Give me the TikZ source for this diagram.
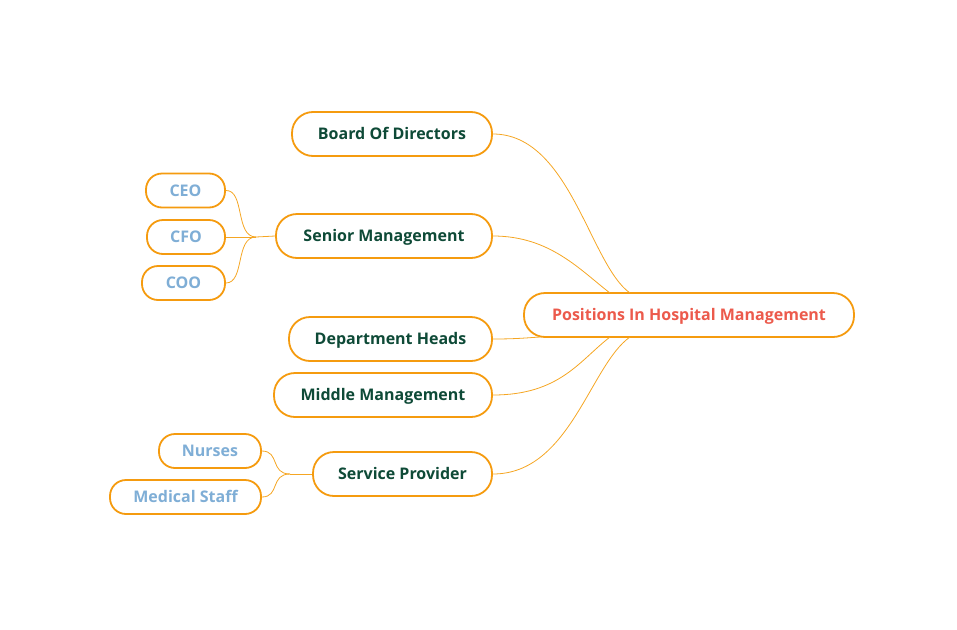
\documentclass[tikz,border=0pt]{standalone}
\usepackage{fontspec}
\setmainfont{Open Sans}
\definecolor{bord}{HTML}{F59B0F}
\definecolor{dgreen}{HTML}{0E4A37}
\definecolor{lblue}{HTML}{7FAED6}
\definecolor{rootred}{HTML}{EC5A4C}
\definecolor{wire}{HTML}{F5A623}
\tikzset{
  boxbase/.style={draw=bord,line width=1.8pt,fill=white,inner sep=0pt,text height=11.4pt,text depth=0pt,font=\fontsize{16}{19}\selectfont\bfseries},
  mainbox/.style={boxbase,rounded corners=21pt,minimum height=44pt,text=dgreen},
  subbox/.style={boxbase,rounded corners=16pt,minimum height=34pt,text=lblue},
  rootbox/.style={boxbase,rounded corners=21pt,minimum height=44pt,text=rootred},
  wire/.style={draw=wire,line width=0.8pt},
}
\begin{document}
\begin{tikzpicture}[x=1pt,y=-1pt]
\useasboundingbox (0,0) rectangle (957,629);
\node[rootbox,minimum width=330pt] (root) at (689,315) {Positions In Hospital Management};
\node[mainbox,minimum width=200pt] (bod) at (392,134) {Board Of Directors};
\node[mainbox,minimum width=216pt] (sen) at (384,236) {Senior Management};
\node[mainbox,minimum width=203pt] (dep) at (390.5,339) {Department Heads};
\node[mainbox,minimum width=218pt] (mid) at (383,395) {Middle Management};
\node[mainbox,minimum width=179pt] (ser) at (402.5,474) {Service Provider};
\node[subbox,minimum width=79pt] (ceo) at (185.5,190.5) {CEO};
\node[subbox,minimum width=78pt] (cfo) at (186,237) {CFO};
\node[subbox,minimum width=83pt] (coo) at (183.5,283) {COO};
\node[subbox,minimum width=102pt] (nur) at (210,451) {Nurses};
\node[subbox,minimum width=151pt] (med) at (185.5,497) {Medical Staff};
\coordinate (r1) at (630,293);
\coordinate (r2) at (610,293);
\coordinate (r3) at (540,337);
\coordinate (r4) at (610,337);
\coordinate (r5) at (630,337);
\coordinate (js) at (256,237);
\coordinate (jv) at (290,474);
\path[wire] (bod.east) .. controls (570,134) and (590,265) .. (r1);
\path[wire] (sen.east) .. controls (550,236) and (580,270) .. (r2);
\path[wire] (dep.east) .. controls (515,339) and (525,338) .. (r3);
\path[wire] (mid.east) .. controls (560,395) and (580,360) .. (r4);
\path[wire] (ser.east) .. controls (570,474) and (590,365) .. (r5);
\path[wire] (ceo.east) .. controls (245,190) and (235,237) .. (js);
\path[wire] (cfo.east) -- (js);
\path[wire] (coo.east) .. controls (245,283) and (235,237) .. (js);
\path[wire] (js) -- (sen.west);
\path[wire] (nur.east) .. controls (280,451) and (270,474) .. (jv);
\path[wire] (med.east) .. controls (280,497) and (270,474) .. (jv);
\path[wire] (jv) -- (ser.west);
\end{tikzpicture}
\end{document}
